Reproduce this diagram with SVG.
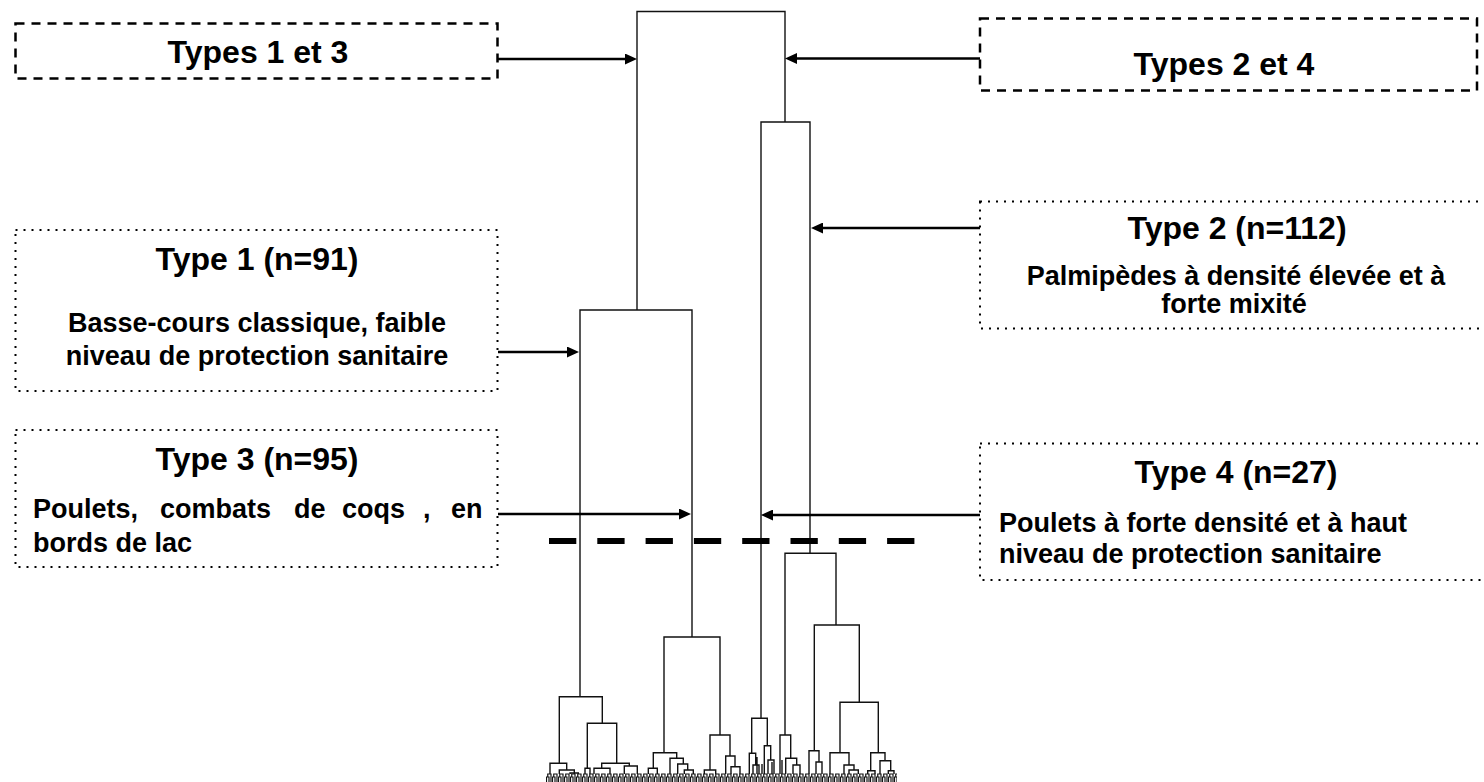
<svg xmlns="http://www.w3.org/2000/svg" width="1484" height="782" viewBox="0 0 1484 782">
<style>
.t{font-family:"Liberation Sans",Arial,Helvetica,sans-serif;font-weight:bold;fill:#000}
.h{font-size:32px}
.b{font-size:27px}
.dash{fill:none;stroke:#000;stroke-width:2.5;stroke-dasharray:9 7}
.dot{fill:none;stroke:#000;stroke-width:2;stroke-dasharray:2 6}
.den{fill:none;stroke:#111;stroke-width:1.4}
.arr{fill:none;stroke:#000;stroke-width:2.6;marker-end:url(#ah)}
</style>
<defs>
<marker id="ah" markerUnits="userSpaceOnUse" markerWidth="13" markerHeight="11" refX="6" refY="5.5" orient="auto">
<path d="M0 0 L12 5.5 L0 11 z" fill="#000"/>
</marker>
<pattern id="leaves" patternUnits="userSpaceOnUse" x="546" y="773" width="6" height="9">
<path d="M0.5 9 V4 H3 V9 M1.75 4 V1 H5 V9" fill="none" stroke="#111" stroke-width="1.2"/>
</pattern>
</defs>
<rect width="1484" height="782" fill="#fff"/>

<g id="types13">
<rect class="dash" x="15.5" y="23.5" width="482" height="55"/>
<text class="t h" x="258" y="63" text-anchor="middle">Types 1 et 3</text>
</g>
<g id="types24">
<rect class="dash" x="980" y="18.5" width="497" height="72"/>
<text class="t h" x="1224" y="75" text-anchor="middle">Types 2 et 4</text>
</g>
<g id="type1">
<rect class="dot" x="15.5" y="230" width="482" height="161"/>
<text class="t h" x="257" y="270" text-anchor="middle">Type 1 (n=91)</text>
<text class="t b" x="257" y="332" text-anchor="middle">Basse-cours classique, faible</text>
<text class="t b" x="257" y="365" text-anchor="middle">niveau de protection sanitaire</text>
</g>
<g id="type3">
<rect class="dot" x="15.5" y="430" width="482" height="137"/>
<text class="t h" x="257" y="470" text-anchor="middle">Type 3 (n=95)</text>
<text class="t b" y="518"><tspan x="33">Poulets,</tspan><tspan x="160">combats</tspan><tspan x="294">de</tspan><tspan x="342">coqs</tspan><tspan x="423">,</tspan><tspan x="451">en</tspan></text>
<text class="t b" x="33" y="552">bords de lac</text>
</g>
<g id="type2">
<rect class="dot" x="980" y="201.5" width="510" height="127"/>
<text class="t h" x="1237" y="239" text-anchor="middle">Type 2 (n=112)</text>
<text class="t b" x="1236" y="285" text-anchor="middle">Palmipèdes à densité élevée et à</text>
<text class="t b" x="1234" y="313" text-anchor="middle">forte mixité</text>
</g>
<g id="type4">
<rect class="dot" x="980" y="443.5" width="510" height="136.5"/>
<text class="t h" x="1236" y="483" text-anchor="middle">Type 4 (n=27)</text>
<text class="t b" x="999" y="532">Poulets à forte densité et à haut</text>
<text class="t b" x="999" y="563">niveau de protection sanitaire</text>
</g>

<g id="dendrogram">
<path class="den" d="M637 310 V11.5 H785 V122
M580 697 V310 H692 V637
M761 718.3 V122 H810 V553.3
M559.3 763.3 V696.7 H602.3 V723.3
M587.3 768.3 V723.3 H616.7 V763.3
M550 774 V763.3 H566.7 V770
M559.3 774 V770 H574.3 V774
M570 774 V773 H578.3 V774
M585 774 V768.3 H590 V774
M601.7 768.3 V763.3 H629.3 V766
M594 774 V768.3 H610 V774
M624.3 774 V766 H637.3 V774
M664 752.7 V637 H720 V735
M653.3 768.3 V752.7 H676.7 V758.3
M648.3 774 V768.3 H657.3 V774
M670 774 V758.3 H683.3 V764
M677.7 774 V764 H687.7 V770
M684.3 774 V770 H693.3 V774
M710 770 V735 H730 V756
M704.3 774 V770 H715.7 V774
M725.7 774 V756 H735 V766.7
M731 774 V766.7 H740 V774
M751.7 753.3 V718.3 H767.3 V745.7
M749.3 774 V753.3 H755.7 V765
M753 774 V765 H759 V774
M764.3 774 V745.7 H770.7 V760
M768 774 V760 H774 V774
M785 735 V553.3 H836 V625
M780 774 V735 H790.7 V758.3
M785.7 774 V758.3 H796.7 V765
M793 774 V765 H800 V774
M814.3 750.7 V625 H859.3 V702.3
M809 774 V750.7 H819 V762
M816 774 V762 H822 V774
M840 752.7 V702.3 H878.3 V752.7
M830 774 V752.7 H849 V765
M844 774 V765 H854 V770
M849 774 V770 H858.3 V774
M870.7 770.7 V752.7 H885 V760.7
M867.7 774 V770.7 H875 V774
M880 774 V760.7 H890.7 V770.7
M888.3 774 V770.7 H894 V774
M757 774 V757 M772 774 V762 M782 774 V760 M762 774 V764"/>
<rect x="546" y="773" width="351" height="9" fill="url(#leaves)"/>
</g>

<g id="cut">
<line x1="549" y1="541" x2="916" y2="541" stroke="#000" stroke-width="6" stroke-dasharray="27.3 21"/>
</g>

<g id="connectors">
<line class="arr" x1="498" y1="59" x2="631" y2="59"/>
<line class="arr" x1="980" y1="58.5" x2="791" y2="58.5"/>
<line class="arr" x1="498" y1="352" x2="573" y2="352"/>
<line class="arr" x1="498" y1="514" x2="685" y2="514"/>
<line class="arr" x1="980" y1="228" x2="817" y2="228"/>
<line class="arr" x1="980" y1="515" x2="767" y2="515"/>
</g>
</svg>
